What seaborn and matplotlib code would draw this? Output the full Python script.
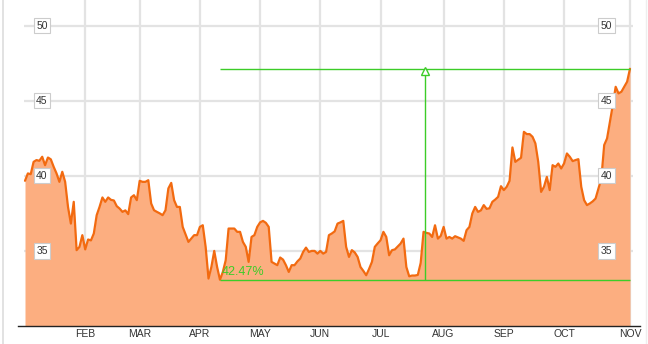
import numpy as np
import pandas as pd
import matplotlib
matplotlib.use("Agg")
import matplotlib.pyplot as plt
import seaborn as sns

# ---- data (trading sessions from Jan 2, 2014) ----
price = [
    39.67, 40.16, 40.11, 40.93, 41.05, 41.00, 41.27, 40.71, 41.22, 41.10,
    40.60, 40.16, 39.60, 40.27, 39.60, 37.93, 36.82, 38.27, 35.05, 35.27,
    36.05, 35.10, 35.76, 35.70, 36.16, 37.38, 37.93, 38.56, 38.27, 38.56,
    38.40, 38.36, 37.98, 37.82, 37.60, 37.70, 37.45, 38.56, 38.71, 38.38,
    39.67, 39.60, 39.60, 39.71, 38.16, 37.71, 37.60, 37.50, 37.38, 37.71,
    39.16, 39.53, 38.38, 37.93, 37.93, 36.60, 36.10, 35.60, 35.82, 36.05,
    36.05, 36.60, 36.71, 35.27, 33.16, 33.93, 35.00, 33.93, 33.08, 33.60,
    34.38, 36.49, 36.49, 36.49, 36.27, 36.27, 35.60, 35.27, 34.27, 35.93,
    36.05, 36.60, 36.90, 37.00, 36.87, 36.60, 34.27, 34.16, 34.05, 34.56,
    34.42, 34.05, 33.60, 34.05, 34.05, 34.30, 34.49, 34.93, 35.22, 34.93,
    35.00, 35.00, 34.82, 35.00, 34.82, 34.93, 36.05, 36.16, 36.30, 36.82,
    36.90, 37.00, 35.27, 34.60, 35.05, 34.90, 34.60, 33.93, 33.67, 33.38,
    33.80, 34.27, 35.27, 35.50, 35.71, 36.27, 35.93, 34.71, 35.05, 35.10,
    35.30, 35.49, 35.82, 33.93, 33.31, 33.36, 33.36, 33.40, 34.20, 36.27,
    36.20, 36.16, 35.93, 36.71, 35.82, 36.00, 36.60, 35.82, 35.93, 35.82,
    35.98, 35.90, 35.82, 35.67, 36.38, 36.60, 37.49, 37.93, 37.60, 37.70,
    38.05, 37.80, 37.84, 38.27, 38.42, 38.60, 39.31, 39.05, 39.27, 39.67,
    41.89, 40.93, 41.07, 41.20, 42.93, 42.78, 42.78, 42.60, 42.16, 40.93,
    38.93, 39.27, 39.93, 39.05, 40.71, 40.60, 40.82, 40.49, 40.82, 41.49,
    41.27, 40.98, 41.05, 41.11, 39.27, 38.38, 38.05, 38.16, 38.30, 38.49,
    39.16, 39.82, 42.05, 42.49, 43.60, 44.71, 45.93, 45.49, 45.60, 45.93,
    46.27, 47.13,
]
session = list(range(len(price)))
month_labels = ["FEB", "MAR", "APR", "MAY", "JUN", "JUL", "AUG", "SEP", "OCT", "NOV"]
month_sessions = [21, 40, 61, 82, 103, 124, 146, 167, 188, 211]
y_ticks = [35, 40, 45, 50]
low_session = 68
high_session = 211
arrow_session = 139.5

df = pd.DataFrame({"session": session, "price": price})

# ---- figure ----
sns.set_theme(style="white")
plt.rcParams["font.family"] = ["Liberation Sans", "DejaVu Sans"]

W, H = 648, 344
fig = plt.figure(figsize=(W / 100, H / 100), dpi=100)
ax_l, ax_r, ax_b, ax_t = 18, 640, 326, 0  # pixel edges
ax = fig.add_axes([ax_l / W, (H - ax_b) / H, (ax_r - ax_l) / W, (ax_b - ax_t) / H])

px_per = 2.867
x0 = -(25 - ax_l) / px_per
x1 = (len(price) - 1) + (ax_r - 630) / px_per
ax.set_xlim(x0, x1)
ax.set_ylim(30, 51.71)

grid_c = "#e3e3e3"
# vertical month gridlines
for s in month_sessions:
    ax.axvline(s, color=grid_c, lw=1.6, zorder=0)
# horizontal gridlines
ax.hlines(y_ticks, -0.3, 212.2, color=grid_c, lw=1.6, zorder=0)

fill_c = "#fcae80"
line_c = "#f26a10"
ax.fill_between(df["session"], 30, df["price"], color=fill_c, lw=0, zorder=1)
sns.lineplot(data=df, x="session", y="price", color=line_c, lw=1.6, ax=ax, zorder=2)

# green range annotation
g = "#3ccc28"
lo = price[low_session]
hi = price[high_session]
pct = (hi / lo - 1) * 100
ax.hlines([lo, hi], low_session, high_session, color=g, lw=1.0, zorder=4)
ax.vlines(arrow_session, lo, hi, color=g, lw=1.0, zorder=4)
ax.plot([arrow_session], [hi - 0.17], marker="^", ms=5.5, mfc="white", mec=g, mew=1.0, zorder=5)
ax.text(low_session + 0.5, lo + 0.12, f"{pct:.2f}%", color=g, fontsize=9, ha="left", va="bottom", zorder=5)

# y labels as boxed texts on both sides
ytr = ax.get_yaxis_transform()
for v in y_ticks:
    for xf in [(42 - ax_l) / (ax_r - ax_l), (606.5 - ax_l) / (ax_r - ax_l)]:
        ax.text(xf, v, str(v), transform=ytr, ha="center", va="center", fontsize=7.5, color="#333333",
                bbox=dict(boxstyle="square,pad=0.25", fc="white", ec="#cccccc", lw=0.8), zorder=6)

ax.set_yticks([])
ax.set_xticks(month_sessions)
ax.set_xticklabels(month_labels, fontsize=7.5, color="#333333")
ax.tick_params(axis="x", length=0, pad=2)
ax.set_xlabel("")
ax.set_ylabel("")
for sp in ["top", "right", "left"]:
    ax.spines[sp].set_visible(False)
ax.spines["bottom"].set_color("#222222")
ax.spines["bottom"].set_linewidth(1.0)
ax.patch.set_alpha(0)

# outer light frame lines
fig.add_artist(plt.Line2D([2.5 / W, 2.5 / W], [0, 1], color="#dddddd", lw=1.2, transform=fig.transFigure))
fig.add_artist(plt.Line2D([645.5 / W, 645.5 / W], [0, 1], color="#eeeeee", lw=1.0, transform=fig.transFigure))

fig.savefig("out.png", dpi=100)
